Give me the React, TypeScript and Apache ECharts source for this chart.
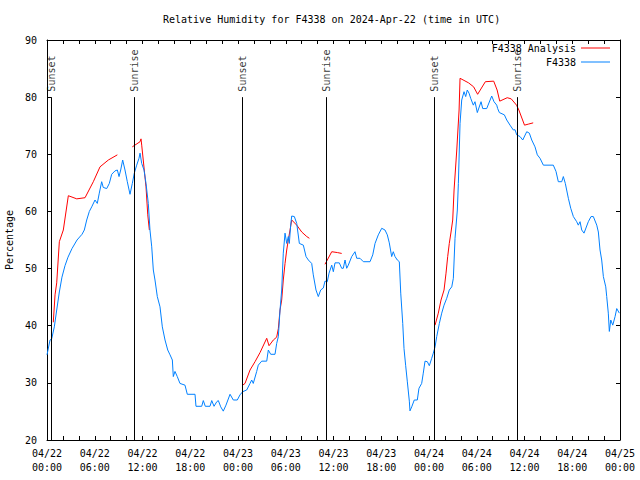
import React, { useEffect, useRef } from "react";
import * as echarts from "echarts";

// Hours since 2024-04-22 00:00 UTC
const obsHours = [
  0.0, 0.38, 0.59, 0.92, 1.22, 1.55, 1.88, 2.26, 2.64, 3.14, 3.77, 4.4, 4.69, 4.99, 5.32, 5.62,
  6.03, 6.32, 6.57, 6.87, 7.07, 7.5, 7.83, 8.13, 8.55, 8.84, 9.05, 9.26, 9.51, 9.8, 10.09, 10.43,
  10.72, 10.97, 11.27, 11.56, 11.69, 11.9, 12.19, 12.44, 12.73, 12.94, 13.16, 13.36, 13.57, 13.86,
  14.2, 14.49, 14.83, 15.17, 15.46, 15.75, 15.87, 16.08, 16.37, 16.71, 17.34, 17.63, 18.6, 18.72,
  19.44, 19.64, 19.89, 20.48, 20.7, 20.99, 21.33, 21.53, 21.83, 22.15, 22.49, 23.0, 23.41, 23.91,
  24.25, 24.59, 25.09, 25.51, 25.72, 25.92, 26.35, 26.55, 26.98, 27.61, 27.81, 28.11, 28.65, 28.86,
  29.07, 29.28, 29.49, 29.69, 29.91, 30.12, 30.32, 30.45, 30.62, 30.75, 31.08, 31.38, 31.71, 32.21,
  32.55, 32.84, 33.26, 33.46, 33.8, 34.09, 34.39, 34.72, 34.93, 35.22, 35.44, 35.78, 35.98, 36.19,
  36.73, 37.03, 37.23, 37.45, 37.66, 37.86, 38.29, 38.7, 38.92, 39.33, 39.75, 40.59, 40.93, 41.22,
  41.63, 42.06, 42.47, 42.76, 43.01, 43.31, 43.51, 43.73, 44.02, 44.27, 44.45, 44.7, 44.86, 45.07,
  45.27, 45.53, 45.61, 45.83, 46.15, 46.53, 46.74, 47.08, 47.28, 47.5, 47.79, 48.04, 48.34, 48.54,
  48.76, 48.97, 49.3, 49.6, 49.89, 50.23, 50.55, 50.86, 51.06, 51.27, 51.56, 51.69, 51.9, 52.11,
  52.4, 52.61, 52.81, 53.03, 53.24, 53.57, 53.78, 54.07, 54.54, 54.75, 55.25, 55.88, 56.17, 56.51,
  56.63, 56.84, 57.47, 57.77, 58.18, 58.6, 58.81, 59.02, 59.44, 59.78, 60.28, 60.61, 60.91, 61.32,
  61.61, 61.95, 62.37, 63.62, 63.96, 64.25, 64.68, 64.88, 65.13, 65.51, 65.81, 66.14, 66.56, 66.76,
  66.98, 67.19, 67.48, 68.02, 68.36, 68.65, 69.08, 69.28, 69.49, 69.7, 69.91, 70.21, 70.33, 70.53,
  70.66, 70.84, 71.09, 71.38, 71.59, 71.92,
];
const obsValues = [
  34.9, 37.5, 37.7, 39.8, 42.75, 45.9, 48.5, 50.5, 52, 53.5, 55, 56, 56.75, 58.5, 60, 60.8,
  62, 61.4, 63.2, 65.2, 64.2, 64.0, 64.9, 66.5, 67.1, 67.25, 66.1, 67.25, 69.0, 67.25, 65.2, 63.0,
  64.9, 66.7, 68.1, 69.3, 70.2, 68.4, 67.25, 64.9, 61.4, 56.75, 53.8, 49.75, 48, 45.1,
  43.3, 39.8, 37.5, 35.75, 34.9, 34.0, 31.1, 32.0, 31.1, 29.9, 29.6, 28.0, 28.0, 25.9,
  25.9, 26.9, 25.9, 25.9, 26.9, 25.9, 26.7, 26.9, 25.8, 25.05, 26.1, 28.0, 27.0, 27.0,
  27.9, 28.45, 28.75, 29.9, 30.5, 29.9, 32.0, 33.1, 33.8, 33.8, 35.75, 35.0, 35.0, 36.9,
  38.1, 42.75, 46.25, 52.7, 56.2, 54.4, 55.6, 54.4, 57.6, 59.2, 59.1, 57.9, 54.4, 54.1,
  52.1, 51.5, 50.9, 48.9, 46.25, 45.1, 46.25, 46.6, 47.8, 47.7, 49.2, 50.6, 49.45, 51.0,
  51.0, 50.05, 50.05, 51.5, 50.05, 50.6, 52.1, 52.95, 51.8, 51.8, 51.2, 51.2, 52.4, 54.4,
  55.9, 57.05, 56.75, 55.9, 54.5, 52.1, 52.95, 52.1, 51.5, 51.2, 45.7, 40.4, 36.0, 33.0,
  30.3, 26.8, 25.1, 25.8, 27.0, 27.0, 29.05, 29.9, 31.7, 33.8, 33.7, 33.0, 34.3, 35.2,
  36.3, 38.1, 40.4, 42.2, 43.6, 44.8, 46.25, 46.8, 48.3, 55.3, 60.25, 64.9, 75.4, 79.5,
  80.95, 80.1, 81.25, 80.7, 79.8, 78.6, 79.2, 77.3, 79.2, 78.0, 78.0, 80.2, 79.2, 78.6,
  78.0, 77.3, 76.9, 76.0, 75.1, 74.25, 74.3, 73.4, 73.1, 72.5, 73.95, 73.7, 72.5, 71.3,
  69.9, 69.3, 68.1, 68.1, 67.0, 65.2, 65.2, 66.1, 64.9, 62.3, 60.55, 59.1, 58.2, 57.6,
  58.2, 56.75, 56.2, 58.2, 59.1, 59.1, 57.6, 56.4, 53.25, 51.5, 48.6, 46.8, 45.1, 42.2,
  39.0, 41.0, 40.1, 41.6, 43.0, 42.2,
];

// Analysis: null entries separate the segments
const anaHours = [
  0.79, 1.01, 1.22, 1.55, 2.05, 2.68, 3.74, 4.78, 5.82, 6.66, 7.71, 8.84, 9.5,
  10.72, 11.69, 11.81, 11.9, 12.44, 12.66, 12.86, 18,
  24.59, 24.88, 25.51, 26.14, 26.77, 27.61, 27.9, 28.44, 28.86, 29.07, 29.28, 29.49, 29.69, 29.91,
  30.12, 30.32, 30.54, 30.75, 31.38, 32.01, 32.64, 32.97, 34,
  34.93, 35.22, 35.78, 36.49, 37.03, 42,
  48.76, 49.17, 49.51, 49.89, 50.14, 50.35, 50.55, 50.77, 50.98, 51.15, 51.49, 51.78, 51.9, 52.97,
  53.61, 54.11, 55.08, 56.13, 56.56, 56.89, 57.83, 58.33, 59.0, 59.29, 60.0, 60.54, 61.09,
];
const anaValues: (number | null)[] = [
  40.6, 45.4, 47.5, 54.7, 56.75, 62.75, 62.2, 62.4, 65.2, 67.8, 69.0, 69.9, null,
  71.3, 72.2, 72.7, 71.6, 64.3, 59.4, 56.75, null,
  29.6, 29.9, 32.25, 33.7, 35.3, 37.8, 36.5, 37.5, 38.0, 39.5, 42.75, 44.5, 48.0, 50.9,
  53.25, 55.0, 56.75, 58.5, 57.6, 56.4, 55.6, 55.3, null,
  50.75, 51.5, 52.95, 52.8, 52.65, null,
  40.1, 42.2, 44.5, 46.25, 49.2, 52.1, 54.4, 56.4, 58.5, 63.75, 70.75, 77.75, 83.3, 82.5,
  81.8, 80.5, 82.7, 82.8, 81.25, 79.3, 79.9, 79.7, 78.6, 77.75, 75.1, 75.3, 75.5,
];

const sunEventHours = [0.59, 10.97, 24.55, 35.1, 48.67, 59.1];
const sunEventNames = ["Sunset", "Sunrise", "Sunset", "Sunrise", "Sunset", "Sunrise"];

const FONT = "DejaVu Sans Mono";

export default function App() {
  const ref = useRef<HTMLDivElement>(null);
  useEffect(() => {
    if (!ref.current) return;
    const chart = echarts.init(ref.current, null, { renderer: "svg" });
    const obs = obsHours.map((h, i) => [h, obsValues[i]]);
    const ana = anaHours.map((h, i) => [h, anaValues[i]]);
    const sun = sunEventHours.map((h, i) => [h, 80, sunEventNames[i]]);
    const textStyle = { fontFamily: FONT, fontSize: 10, color: "#000" };
    const tick = { show: true, inside: true, length: 4, lineStyle: { color: "#000", width: 1 } };
    const axisLine = { show: true, onZero: false, lineStyle: { color: "#000", width: 1 } };
    const legendBase = {
      right: 30,
      align: "right",
      icon: "rect",
      itemWidth: 29,
      itemHeight: 1,
      padding: 0,
      textStyle,
      selectedMode: false,
    };
    chart.setOption({
      animation: false,
      backgroundColor: "#fff",
      title: {
        text: "Relative Humidity for F4338 on 2024-Apr-22 (time in UTC)",
        left: 163,
        top: 14,
        padding: 0,
        textStyle: { ...textStyle, fontWeight: "normal" },
      },
      legend: [
        { ...legendBase, data: ["F4338 Analysis"], top: 43 },
        { ...legendBase, data: ["F4338"], top: 57 },
      ],
      grid: { left: 47, right: 20, top: 40, bottom: 40, containLabel: false, outerBoundsMode: "none" },
      xAxis: [
        {
          type: "value",
          min: 0,
          max: 72,
          interval: 2,
          axisLine,
          axisTick: tick,
          splitLine: { show: false },
          axisLabel: {
            ...textStyle,
            margin: 6,
            lineHeight: 14,
            showMinLabel: true,
            showMaxLabel: true,
            formatter: (v: number) => {
              if (v % 6 !== 0) return "";
              const day = 22 + Math.floor(v / 24);
              const hh = v % 24;
              return `04/${day}\n${String(hh).padStart(2, "0")}:00`;
            },
          },
        },
        {
          type: "value",
          position: "top",
          min: 0,
          max: 72,
          interval: 2,
          axisLine,
          axisTick: tick,
          axisLabel: { show: false },
          splitLine: { show: false },
        },
      ],
      yAxis: [
        {
          type: "value",
          min: 20,
          max: 90,
          interval: 10,
          axisLine,
          axisTick: tick,
          splitLine: { show: false },
          axisLabel: { ...textStyle, margin: 10 },
          name: "Percentage",
          nameLocation: "middle",
          nameGap: 33,
          nameTextStyle: textStyle,
        },
        {
          type: "value",
          position: "right",
          min: 20,
          max: 90,
          interval: 10,
          axisLine,
          axisTick: tick,
          axisLabel: { show: false },
          splitLine: { show: false },
        },
      ],
      series: [
        {
          name: "F4338 Analysis",
          type: "line",
          data: ana,
          symbol: "none",
          connectNulls: false,
          lineStyle: { color: "#ff0000", width: 1 },
          itemStyle: { color: "#ff0000" },
          silent: true,
          z: 3,
        },
        {
          name: "F4338",
          type: "line",
          data: obs,
          symbol: "none",
          lineStyle: { color: "#0080ff", width: 1 },
          itemStyle: { color: "#0080ff" },
          silent: true,
          z: 4,
        },
        {
          name: "sun",
          type: "scatter",
          data: sun,
          symbolSize: 1,
          itemStyle: { color: "rgba(0,0,0,0)" },
          silent: true,
          z: 2,
          label: {
            show: true,
            formatter: (p: any) => p.value[2],
            position: "top",
            distance: 5,
            rotate: 90,
            align: "left",
            verticalAlign: "middle",
            ...textStyle,
          },
          markLine: {
            silent: true,
            symbol: ["none", "none"],
            label: { show: false },
            lineStyle: { color: "#000", width: 1, type: "solid" },
            data: sunEventHours.map((h) => [{ coord: [h, 20] }, { coord: [h, 80] }]),
          },
        },
      ],
    });
    return () => chart.dispose();
  }, []);
  return (
    <div
      ref={ref}
      style={{ position: "fixed", left: 0, top: 0, width: 640, height: 480, background: "#fff" }}
    />
  );
}
